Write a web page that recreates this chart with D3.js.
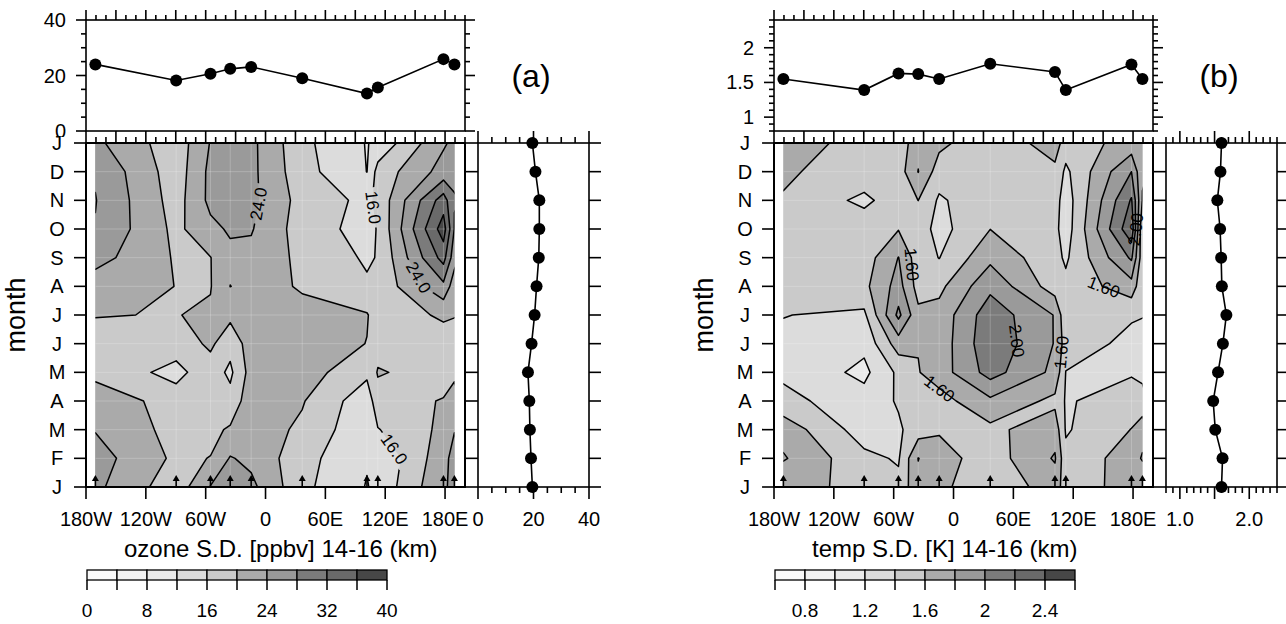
<!DOCTYPE html>
<html>
<head>
<meta charset="utf-8">
<script src="https://cdn.jsdelivr.net/npm/d3@7"></script>
<style>
  body { margin: 0; background: #fff; }
  svg { display: block; font-family: "Liberation Sans", Arial, Helvetica, sans-serif; }
</style>
</head>
<body>
<svg id="chart" width="1286" height="624"></svg>
<script>
// ---------------------------------------------------------------
// Station layout (longitude, degrees east) and month rows
// ---------------------------------------------------------------
const stationNames = ["Samoa", "San Cristobal", "Paramaribo", "Natal", "Ascension",
                      "Nairobi", "Kuala Lumpur", "Watukosek", "Fiji"];
const stationLons = [-170.6, -89.6, -55.2, -35.4, -14.4, 36.8, 101.7, 112.6, 178.4];
const monthLabels = ["J", "F", "M", "A", "M", "J", "J", "A", "S", "O", "N", "D", "J"];
const lonTickValues = [-180, -120, -60, 0, 60, 120, 180];
const lonTickLabels = ["180W", "120W", "60W", "0", "60E", "120E", "180E"];

// ---------------------------------------------------------------
// (a) ozone S.D. [ppbv], 14-16 km; one row per station, Jan..Dec
// ---------------------------------------------------------------
const ozoneMonthly = [
  [24.9, 25.7, 23.8, 23.7, 18.2, 19.1, 20.1, 21.8, 25.5, 27.8, 28.15, 27.6], // Samoa
  [17.6, 19.2, 18.6, 17.5, 15.0, 17.5, 19.9, 19.95, 19.6, 19.0, 18.3, 17.8], // San Cristobal
  [24.2, 20.1, 19.0, 18.5, 18.0, 20.8, 20.5, 19.8, 19.9, 23.0, 25.0, 25.0], // Paramaribo
  [26.0, 24.3, 20.5, 17.3, 15.2, 17.3, 21.0, 24.05, 23.0, 24.5, 25.5, 25.5], // Natal
  [25.0, 23.0, 22.0, 22.5, 21.6, 22.0, 22.5, 23.0, 23.0, 24.3, 25.0, 25.0], // Ascension
  [17.0, 17.5, 19.3, 20.3, 22.0, 23.0, 22.0, 19.3, 19.0, 18.1, 18.5, 17.5], // Nairobi
  [11.8, 12.3, 12.8, 13.5, 16.9, 19.9, 20.3, 16.5, 15.5, 14.5, 15.0, 11.95], // Kuala Lumpur
  [13.0, 12.5, 15.8, 18.5, 20.3, 18.5, 18.0, 17.0, 16.2, 16.3, 17.0, 17.5], // Watukosek
  [23.5, 22.5, 20.9, 20.2, 18.5, 18.5, 20.5, 27.0, 33.5, 38.0, 34.0, 25.5]  // Fiji
];
const ozoneStationSD = [24.0, 18.2, 20.6, 22.4, 23.1, 19.0, 13.5, 15.7, 25.9];
const ozoneMonthSD = [19.6, 19.1, 18.7, 18.5, 18.0, 19.3, 20.4, 21.1, 21.9, 22.1, 22.1, 20.7];
const ozoneLevels = [0, 4, 8, 12, 16, 20, 24, 28, 32, 36];
const ozoneBarTicks = [0, 8, 16, 24, 32, 40];

// ---------------------------------------------------------------
// (b) temperature S.D. [K], 14-16 km; one row per station, Jan..Dec
// ---------------------------------------------------------------
const tempMonthly = [
  [1.62, 1.82, 1.72, 1.46, 1.36, 1.36, 1.405, 1.45, 1.48, 1.42, 1.59, 1.62], // Samoa
  [1.585, 1.45, 1.30, 1.28, 1.15, 1.25, 1.36, 1.55, 1.50, 1.53, 1.35, 1.53],  // San Cristobal
  [1.45, 1.38, 1.37, 1.42, 1.44, 1.70, 2.05, 1.88, 1.805, 1.59, 1.52, 1.50],  // Paramaribo
  [1.75, 1.805, 1.50, 1.50, 1.59, 1.61, 1.65, 1.52, 1.49, 1.50, 1.601, 1.805], // Natal
  [1.65, 1.68, 1.58, 1.52, 1.70, 1.68, 1.67, 1.55, 1.395, 1.33, 1.37, 1.50],  // Ascension
  [1.45, 1.50, 1.55, 1.76, 2.08, 2.15, 2.12, 1.95, 1.75, 1.598, 1.55, 1.50],  // Nairobi
  [1.70, 1.82, 1.72, 1.55, 1.75, 1.79, 1.79, 1.50, 1.46, 1.45, 1.48, 1.55],   // Kuala Lumpur
  [1.50, 1.45, 1.38, 1.38, 1.395, 1.50, 1.44, 1.45, 1.37, 1.30, 1.30, 1.36],  // Watukosek
  [1.67, 1.70, 1.605, 1.50, 1.38, 1.35, 1.42, 1.72, 2.03, 2.35, 2.22, 2.00]   // Fiji
];
const tempStationSD = [1.55, 1.39, 1.63, 1.62, 1.55, 1.77, 1.65, 1.39, 1.76];
const tempMonthSD = [1.60, 1.615, 1.51, 1.48, 1.55, 1.62, 1.67, 1.605, 1.595, 1.58, 1.54, 1.585];
const tempLevels = [0.6, 0.8, 1.0, 1.2, 1.4, 1.6, 1.8, 2.0, 2.2, 2.4];
const tempBarTicks = [0.8, 1.2, 1.6, 2.0, 2.4];

// shading for the ten contour intervals (lowest to highest)
const greys = ["#f9f9f9", "#f2f2f2", "#eaeaea", "#dcdcdc", "#cacaca",
               "#aaaaaa", "#9a9a9a", "#7b7b7b", "#6a6a6a", "#474747"];

const svg = d3.select("#chart");
const defs = svg.append("defs");

// shared geometry (panel (b) is shifted right by dx)
const box = {
  left: 86, right: 465, mainTop: 143, mainBottom: 487,
  topTop: 20, topBottom: 131, sideLeft: 478, sideRight: 589,
  barLeft: 87, barRight: 387, barTop: 570, barBottom: 580
};
const xLon = d3.scaleLinear().domain([-180, 200]).range([box.left, box.right]);
const yRow = d3.scaleLinear().domain([0, 12]).range([box.mainBottom, box.mainTop]);

const lw = 1.6;

function line(g, x1, y1, x2, y2, w) {
  g.append("line").attr("x1", x1).attr("y1", y1).attr("x2", x2).attr("y2", y2)
    .attr("stroke", "#000").attr("stroke-width", w || lw).attr("stroke-linecap", "butt");
}
function text(g, x, y, s, size, anchor, extra) {
  const t = g.append("text").attr("x", x).attr("y", y).text(s)
    .attr("font-size", size).attr("text-anchor", anchor || "middle").attr("fill", "#000");
  if (extra) extra(t);
  return t;
}

function drawPanel(p) {
  const g = svg.append("g").attr("transform", `translate(${p.dx},0)`);
  const lonsExt = stationLons.concat([stationLons[0] + 360]); // wrap Samoa
  const nCol = lonsExt.length, nRow = 13;

  // --------------------- top panel: station S.D. ---------------------
  const yTop = d3.scaleLinear().domain(p.topDomain).range([box.topBottom, box.topTop]);
  g.append("rect").attr("x", box.left).attr("y", box.topTop)
    .attr("width", box.right - box.left).attr("height", box.topBottom - box.topTop)
    .attr("fill", "#fff");
  const topVals = lonsExt.map((lon, i) => [lon, p.stationSD[i % stationNames.length]]);
  g.append("path").datum(topVals)
    .attr("d", d3.line().x(d => xLon(d[0])).y(d => yTop(d[1])))
    .attr("fill", "none").attr("stroke", "#000").attr("stroke-width", 1.6);
  g.selectAll(null).data(topVals).enter().append("circle")
    .attr("cx", d => xLon(d[0])).attr("cy", d => yTop(d[1])).attr("r", 6).attr("fill", "#000");
  g.append("rect").attr("x", box.left).attr("y", box.topTop)
    .attr("width", box.right - box.left).attr("height", box.topBottom - box.topTop)
    .attr("fill", "none").attr("stroke", "#000").attr("stroke-width", lw);
  // lon ticks on top edge
  for (let lon = -180; lon <= 200; lon += 10) {
    const L = (lon % 30 === 0) ? 10 : 5;
    line(g, xLon(lon), box.topTop, xLon(lon), box.topTop - L);
  }
  // value ticks on both sides
  p.topMinor.forEach(v => {
    const major = p.topMajor.some(m => Math.abs(m - v) < 1e-6);
    const L = major ? 10 : 5;
    line(g, box.left, yTop(v), box.left - L, yTop(v));
    line(g, box.right, yTop(v), box.right + L, yTop(v));
  });
  // the lowest value label is cut by the contour panel just below it
  const labClip = "toplab-" + p.id;
  defs.append("clipPath").attr("id", labClip).append("rect")
    .attr("x", 0).attr("y", 0).attr("width", box.left).attr("height", 137);
  const topLabG = g.append("g").attr("clip-path", `url(#${labClip})`);
  p.topLabels.forEach(v => text(topLabG, box.left - 20, yTop(v) + 7, p.topFormat(v), 20, "end"));
  text(g, 531, 87, p.tag, 32, "middle");

  // --------------------- main contour panel ---------------------
  g.append("rect").attr("x", box.left).attr("y", box.mainTop)
    .attr("width", box.right - box.left).attr("height", box.mainBottom - box.mainTop)
    .attr("fill", "#fff");

  const values = [];
  for (let j = 0; j < nRow; j++)
    for (let i = 0; i < nCol; i++)
      values.push(p.grid[i % stationNames.length][j % 12]);

  const pxOf = gx => {
    const u = gx - 0.5;
    const i = Math.max(0, Math.min(nCol - 2, Math.floor(u)));
    const lon = lonsExt[i] + (u - i) * (lonsExt[i + 1] - lonsExt[i]);
    return xLon(lon);
  };
  const pyOf = gy => yRow(gy - 0.5);
  const proj = d3.geoTransform({ point(x, y) { this.stream.point(pxOf(x), pyOf(y)); } });
  const path = d3.geoPath(proj);

  const contours = d3.contours().size([nCol, nRow]).thresholds(p.levels)(values);

  const x0 = xLon(lonsExt[0]), x1 = xLon(lonsExt[nCol - 1]);
  const clipId = "clip-" + p.id;
  defs.append("clipPath").attr("id", clipId).append("rect")
    .attr("x", x0).attr("y", box.mainTop).attr("width", x1 - x0)
    .attr("height", box.mainBottom - box.mainTop);

  const fillG = g.append("g").attr("clip-path", `url(#${clipId})`);
  contours.forEach((c, k) => {
    fillG.append("path").attr("d", path(c)).attr("fill", greys[k]).attr("stroke", "none");
  });
  // faint grid seams along station columns and month rows
  const seamG = fillG.append("g").attr("stroke", "#fff").attr("stroke-opacity", 0.22).attr("stroke-width", 1);
  d3.range(1, 12).forEach(j => seamG.append("line")
    .attr("x1", x0).attr("x2", x1).attr("y1", yRow(j)).attr("y2", yRow(j)));
  lonsExt.slice(1, -1).forEach(lon => seamG.append("line")
    .attr("x1", xLon(lon)).attr("x2", xLon(lon)).attr("y1", box.mainTop).attr("y2", box.mainBottom));

  // contour labels: snap each requested spot to the nearest point of its contour
  const maskId = "mask-" + p.id;
  const mask = defs.append("mask").attr("id", maskId).attr("maskUnits", "userSpaceOnUse")
    .attr("x", 0).attr("y", 0).attr("width", 1286).attr("height", 624);
  mask.append("rect").attr("x", 0).attr("y", 0).attr("width", 1286).attr("height", 624).attr("fill", "#fff");

  const labelG = g.append("g");
  p.contourLabels.forEach(spec => {
    const k = p.levels.findIndex(v => Math.abs(v - spec.level) < 1e-9);
    const c = contours[k];
    const target = [xLon(spec.lon), yRow(spec.row)];
    let best = null;
    c.coordinates.forEach(poly => poly.forEach(ring => {
      for (let s = 0; s < ring.length - 1; s++) {
        const a = [pxOf(ring[s][0]), pyOf(ring[s][1])];
        const b = [pxOf(ring[s + 1][0]), pyOf(ring[s + 1][1])];
        const mx = (a[0] + b[0]) / 2, my = (a[1] + b[1]) / 2;
        if (mx < x0 + 1 || mx > x1 - 1 || my < box.mainTop + 1 || my > box.mainBottom - 1) continue;
        const dx = b[0] - a[0], dy = b[1] - a[1];
        const L2 = dx * dx + dy * dy;
        if (L2 < 1e-6) continue;
        let t = ((target[0] - a[0]) * dx + (target[1] - a[1]) * dy) / L2;
        t = Math.max(0, Math.min(1, t));
        const qx = a[0] + t * dx, qy = a[1] + t * dy;
        const d = (qx - target[0]) ** 2 + (qy - target[1]) ** 2;
        if (!best || d < best.d) best = { d, x: qx, y: qy, ang: Math.atan2(dy, dx) * 180 / Math.PI };
      }
    }));
    if (!best) return;
    let ang = best.ang;
    if (ang > 90) ang -= 180;
    if (ang <= -90) ang += 180;
    const s = p.labelFormat(spec.level);
    const tw = s.length * 8.6;
    mask.append("rect").attr("x", -tw / 2 - 3).attr("y", -8).attr("width", tw + 6).attr("height", 16)
      .attr("fill", "#000")
      .attr("transform", `translate(${best.x + p.dx},${best.y}) rotate(${ang})`);
    labelG.append("text").attr("x", 0).attr("y", 6).attr("text-anchor", "middle")
      .attr("font-size", 17).attr("fill", "#000").text(s)
      .attr("transform", `translate(${best.x},${best.y}) rotate(${ang})`);
  });

  const lineG = g.append("g").attr("clip-path", `url(#${clipId})`)
    .append("g").attr("mask", `url(#${maskId})`);
  contours.forEach((c, k) => {
    if (k === 0) return;
    lineG.append("path").attr("d", path(c)).attr("fill", "none")
      .attr("stroke", "#000").attr("stroke-width", 1.5).attr("stroke-linejoin", "round");
  });
  labelG.raise();

  // station arrows along the bottom edge
  lonsExt.forEach(lon => {
    const x = xLon(lon);
    line(g, x, box.mainBottom, x, box.mainBottom - 7, 1.6);
    g.append("path").attr("d", `M${x - 3.5},${box.mainBottom - 6} L${x},${box.mainBottom - 12} L${x + 3.5},${box.mainBottom - 6} Z`)
      .attr("fill", "#000");
  });

  g.append("rect").attr("x", box.left).attr("y", box.mainTop)
    .attr("width", box.right - box.left).attr("height", box.mainBottom - box.mainTop)
    .attr("fill", "none").attr("stroke", "#000").attr("stroke-width", 2);

  // main axes
  for (let lon = -180; lon <= 200; lon += 10) {
    const L = (lon % 30 === 0) ? 12 : 6;
    line(g, xLon(lon), box.mainTop, xLon(lon), box.mainTop - L);
  }
  lonTickValues.forEach((lon, i) => {
    line(g, xLon(lon), box.mainBottom, xLon(lon), box.mainBottom + 12);
    text(g, xLon(lon), box.mainBottom + 39, lonTickLabels[i], 20, "middle");
  });
  monthLabels.forEach((m, j) => {
    line(g, box.left, yRow(j), box.left - 12, yRow(j));
    line(g, box.right, yRow(j), box.sideLeft, yRow(j));
    text(g, 57, yRow(j) + 7, m, 20, "middle");
  });
  text(g, 0, 0, "month", 27, "middle", t => t.attr("transform", `translate(25,${(box.mainTop + box.mainBottom) / 2}) rotate(-90)`));
  text(g, 124, 557, p.title, 24, "start");

  // --------------------- side panel: monthly S.D. ---------------------
  const xSide = d3.scaleLinear().domain(p.topDomain).range([box.sideLeft, box.sideRight]);
  g.append("rect").attr("x", box.sideLeft).attr("y", box.mainTop)
    .attr("width", box.sideRight - box.sideLeft).attr("height", box.mainBottom - box.mainTop)
    .attr("fill", "#fff").attr("stroke", "#000").attr("stroke-width", lw);
  const sideVals = d3.range(13).map(j => [p.monthSD[j % 12], j]);
  g.append("path").datum(sideVals)
    .attr("d", d3.line().x(d => xSide(d[0])).y(d => yRow(d[1])))
    .attr("fill", "none").attr("stroke", "#000").attr("stroke-width", 1.6);
  g.selectAll(null).data(sideVals).enter().append("circle")
    .attr("cx", d => xSide(d[0])).attr("cy", d => yRow(d[1])).attr("r", 6).attr("fill", "#000");
  p.sideMinor.forEach(v => {
    const major = p.sideMajor.some(m => Math.abs(m - v) < 1e-6);
    const L = major ? 12 : 6;
    line(g, xSide(v), box.mainTop, xSide(v), box.mainTop - L);
    line(g, xSide(v), box.mainBottom, xSide(v), box.mainBottom + L);
  });
  p.sideLabels.forEach(v => text(g, xSide(v), box.mainBottom + 39, p.sideFormat(v), 20, "middle"));
  monthLabels.forEach((m, j) => line(g, box.sideRight, yRow(j), box.sideRight + 12, yRow(j)));

  // --------------------- colour bar ---------------------
  const barDomain = [p.levels[0], p.levels[p.levels.length - 1] + (p.levels[1] - p.levels[0])];
  const xBar = d3.scaleLinear().domain(barDomain).range([box.barLeft, box.barRight]);
  const edges = p.levels.concat([barDomain[1]]);
  p.levels.forEach((v, k) => {
    g.append("rect").attr("x", xBar(edges[k])).attr("y", box.barTop)
      .attr("width", xBar(edges[k + 1]) - xBar(edges[k])).attr("height", box.barBottom - box.barTop)
      .attr("fill", greys[k]).attr("stroke", "#000").attr("stroke-width", 1.3);
  });
  edges.forEach(v => line(g, xBar(v), box.barBottom, xBar(v), box.barBottom + 10, 1.5));
  p.barTicks.forEach(v => text(g, xBar(v), 617, d3.format("~g")(v), 19, "middle"));
}

drawPanel({
  id: "a", dx: 0, tag: "(a)",
  grid: ozoneMonthly, stationSD: ozoneStationSD, monthSD: ozoneMonthSD,
  levels: ozoneLevels, barTicks: ozoneBarTicks,
  topDomain: [0, 40], topMinor: d3.range(0, 40.01, 5), topMajor: [0, 20, 40], topLabels: [0, 20, 40],
  topFormat: d3.format("d"),
  sideMinor: d3.range(0, 40.01, 5), sideMajor: [0, 20, 40], sideLabels: [0, 20, 40],
  sideFormat: d3.format("d"),
  labelFormat: d3.format(".1f"),
  title: "ozone S.D. [ppbv] 14-16 (km)",
  contourLabels: [
    { level: 24, lon: -10, row: 9.9 },
    { level: 16, lon: 119, row: 9.8 },
    { level: 24, lon: 153, row: 7.3 },
    { level: 16, lon: 128, row: 1.3 }
  ]
});

drawPanel({
  id: "b", dx: 688, tag: "(b)",
  grid: tempMonthly, stationSD: tempStationSD, monthSD: tempMonthSD,
  levels: tempLevels, barTicks: tempBarTicks,
  topDomain: [0.8, 2.4], topMinor: d3.range(8, 24.01, 1).map(v => v / 10), topMajor: [1.0, 1.5, 2.0],
  topLabels: [1.0, 1.5, 2.0], topFormat: d3.format("~g"),
  sideMinor: d3.range(8, 24.01, 1).map(v => v / 10), sideMajor: [1.0, 1.5, 2.0], sideLabels: [1.0, 2.0],
  sideFormat: d3.format(".1f"),
  labelFormat: d3.format(".2f"),
  title: "temp S.D. [K] 14-16 (km)",
  contourLabels: [
    { level: 1.6, lon: -47, row: 7.75 },
    { level: 1.6, lon: -17, row: 3.3 },
    { level: 2.0, lon: 64, row: 5.1 },
    { level: 1.6, lon: 107, row: 4.7 },
    { level: 1.6, lon: 152, row: 7.1 },
    { level: 2.0, lon: 179, row: 9.0 }
  ]
});
</script>
</body>
</html>
